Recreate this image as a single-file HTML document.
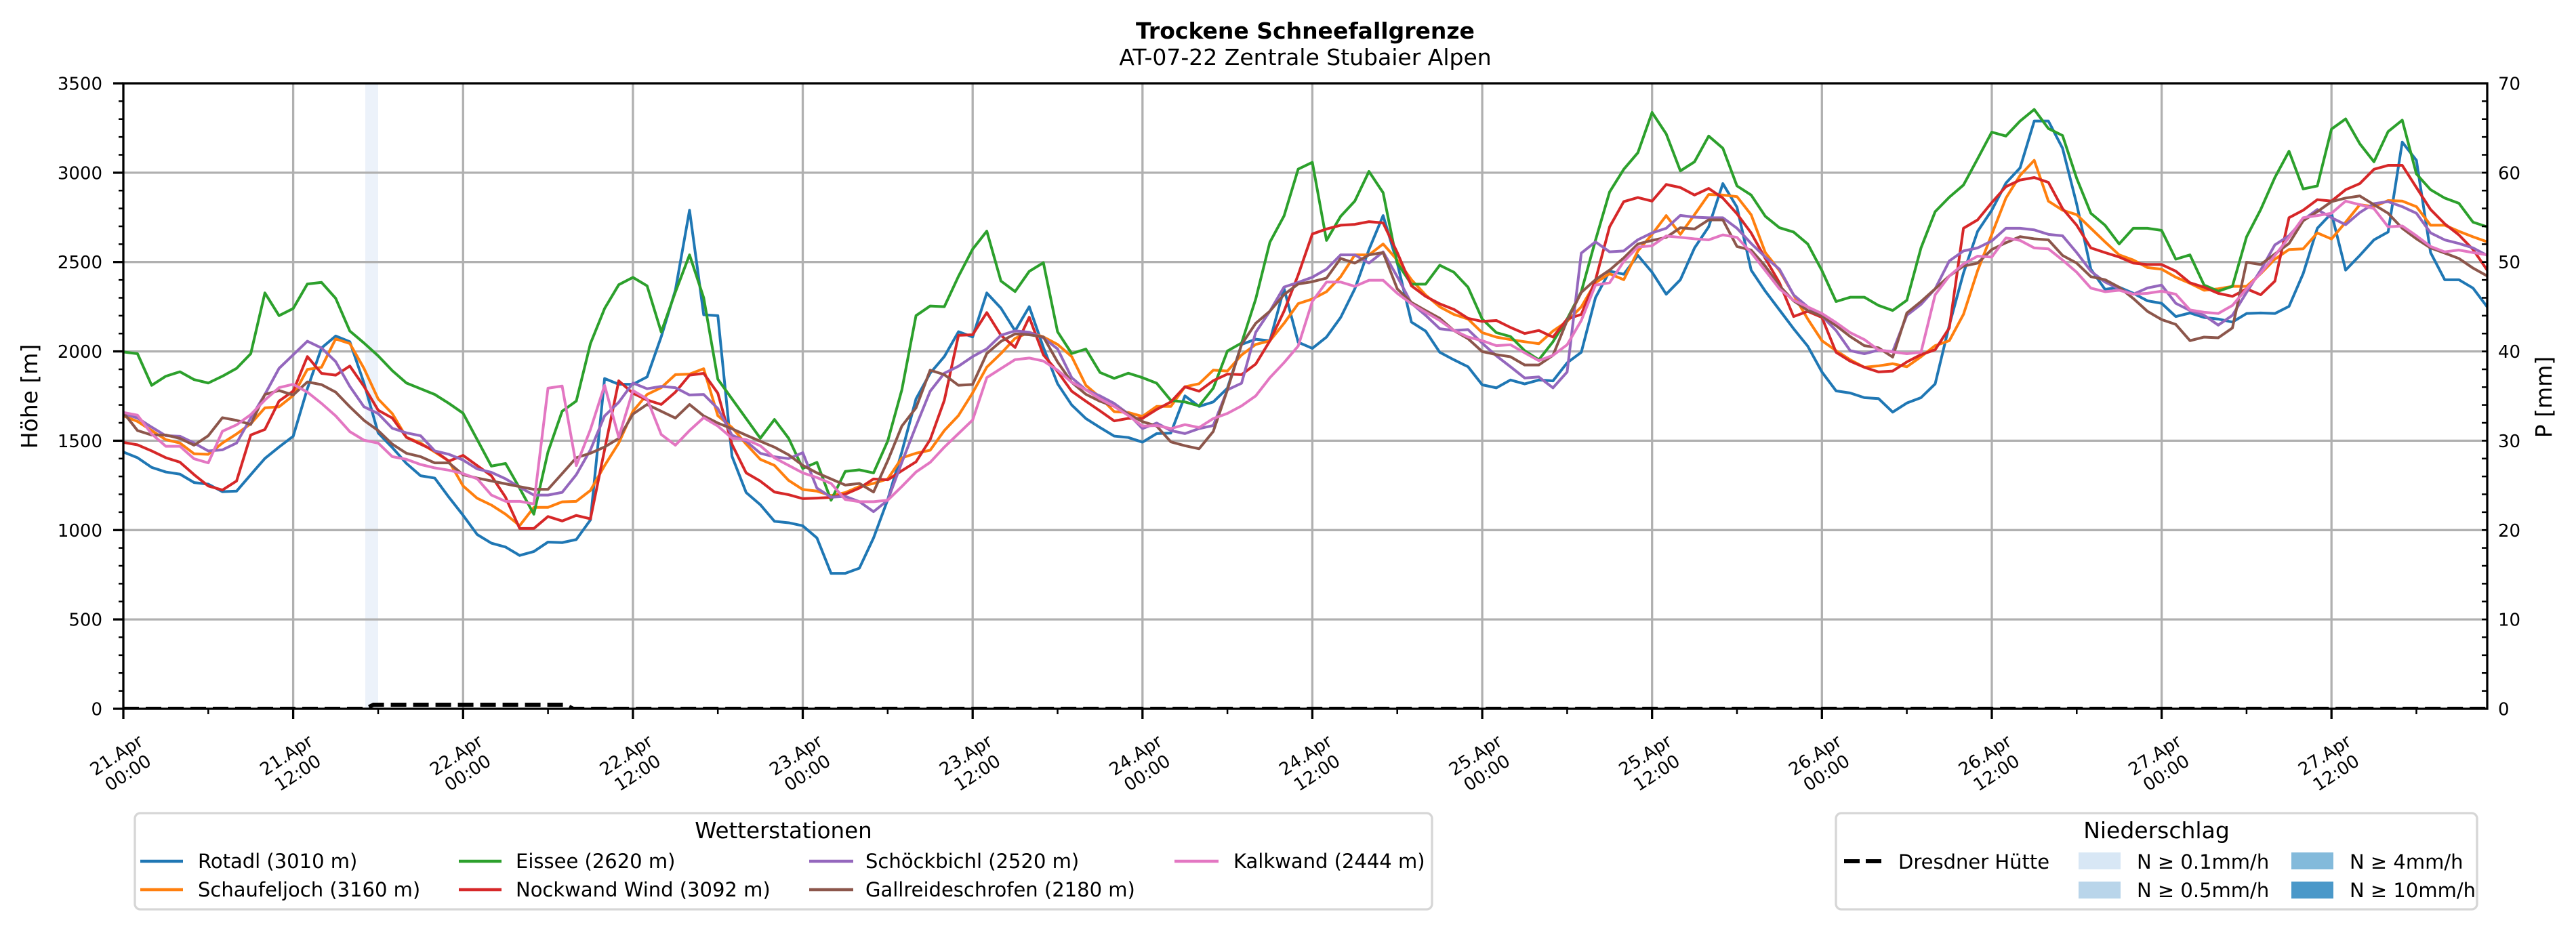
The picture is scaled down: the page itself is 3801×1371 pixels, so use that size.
<!DOCTYPE html>
<html><head><meta charset="utf-8"><style>
html,body{margin:0;padding:0;background:#fff;}
svg{display:block;font-family:"DejaVu Sans","Liberation Sans",sans-serif;}
</style></head><body>
<svg xmlns="http://www.w3.org/2000/svg" width="3801" height="1371" viewBox="0 0 3801 1371">
<rect x="0" y="0" width="3801" height="1371" fill="#fff"/>
<!-- titles -->
<text x="1926" y="57" text-anchor="middle" font-size="33" font-weight="bold">Trockene Schneefallgrenze</text>
<text x="1926" y="96" text-anchor="middle" font-size="33">AT-07-22 Zentrale Stubaier Alpen</text>
<!-- precipitation bar -->
<rect x="539" y="123" width="19" height="923" fill="#ecf2fa"/>
<!-- grid -->
<g stroke="#b0b0b0" stroke-width="3.3">
<line x1="182" x2="3670" y1="914.1" y2="914.1"/>
<line x1="182" x2="3670" y1="782.3" y2="782.3"/>
<line x1="182" x2="3670" y1="650.4" y2="650.4"/>
<line x1="182" x2="3670" y1="518.6" y2="518.6"/>
<line x1="182" x2="3670" y1="386.7" y2="386.7"/>
<line x1="182" x2="3670" y1="254.9" y2="254.9"/>
<line y1="123" y2="1046" x1="432.6" x2="432.6"/>
<line y1="123" y2="1046" x1="683.3" x2="683.3"/>
<line y1="123" y2="1046" x1="933.9" x2="933.9"/>
<line y1="123" y2="1046" x1="1184.5" x2="1184.5"/>
<line y1="123" y2="1046" x1="1435.2" x2="1435.2"/>
<line y1="123" y2="1046" x1="1685.8" x2="1685.8"/>
<line y1="123" y2="1046" x1="1936.4" x2="1936.4"/>
<line y1="123" y2="1046" x1="2187.1" x2="2187.1"/>
<line y1="123" y2="1046" x1="2437.7" x2="2437.7"/>
<line y1="123" y2="1046" x1="2688.3" x2="2688.3"/>
<line y1="123" y2="1046" x1="2939.0" x2="2939.0"/>
<line y1="123" y2="1046" x1="3189.6" x2="3189.6"/>
<line y1="123" y2="1046" x1="3440.2" x2="3440.2"/>
</g>
<!-- series -->
<g transform="matrix(20.886 0 0 -0.263714 182 1046)" fill="none" stroke-linejoin="round">
<polyline vector-effect="non-scaling-stroke" stroke="#1f77b4" stroke-width="4" points="0,1437 1,1405 2,1351 3,1325 4,1313 5,1266 6,1257 7,1215 8,1218 9,1310 10,1401 11,1465 12,1525 13,1791 14,2019 15,2086 16,2054 17,1823 18,1544 19,1462 20,1373 21,1304 22,1291 23,1184 24,1083 25,975 26,927 27,905 28,858 29,880 30,933 31,930 32,947 33,1057 34,1848 35,1816 36,1816 37,1857 38,2082 39,2342 40,2790 41,2205 42,2200 43,1413 44,1210 45,1142 46,1049 47,1041 48,1024 49,956 50,758 51,758 52,787 53,956 54,1170 55,1438 56,1734 57,1878 58,1971 59,2110 60,2081 61,2327 62,2242 63,2115 64,2250 65,2022 66,1819 67,1700 68,1624 69,1574 70,1526 71,1518 72,1492 73,1540 74,1543 75,1751 76,1692 77,1717 78,1794 79,2039 80,2068 81,2059 82,2352 83,2051 84,2017 85,2080 86,2190 87,2350 88,2570 89,2760 90,2494 91,2164 92,2114 93,1995 94,1953 95,1914 96,1813 97,1796 98,1840 99,1818 100,1840 101,1835 102,1936 103,1995 104,2300 105,2449 106,2432 107,2537 108,2443 109,2320 110,2401 111,2579 112,2697 113,2939 114,2807 115,2455 116,2337 117,2232 118,2127 119,2029 120,1885 121,1779 122,1767 123,1741 124,1736 125,1660 126,1711 127,1741 128,1818 129,2147 130,2438 131,2672 132,2790 133,2942 134,3027 135,3289 136,3289 137,3137 138,2824 139,2460 140,2347 141,2359 142,2325 143,2283 144,2269 145,2195 146,2215 147,2190 148,2181 149,2164 150,2212 151,2215 152,2212 153,2252 154,2435 155,2689 156,2773 157,2455 158,2537 159,2624 160,2668 161,3171 162,3069 163,2553 164,2401 165,2401 166,2354 167,2249"/>
<polyline vector-effect="non-scaling-stroke" stroke="#ff7f0e" stroke-width="4" points="0,1639 1,1608 2,1557 3,1506 4,1487 5,1427 6,1424 7,1487 8,1538 9,1595 10,1684 11,1690 12,1753 13,1899 14,1911 15,2070 16,2044 17,1905 18,1734 19,1652 20,1519 21,1487 22,1437 23,1386 24,1247 25,1178 26,1140 27,1089 28,1025 29,1127 30,1127 31,1158 32,1161 33,1222 34,1361 35,1487 36,1665 37,1759 38,1797 39,1870 40,1873 41,1903 42,1640 43,1574 44,1481 45,1396 46,1362 47,1278 48,1227 49,1218 50,1193 51,1210 52,1244 53,1261 54,1286 55,1404 56,1430 57,1447 58,1557 59,1641 60,1768 61,1912 62,1988 63,2073 64,2107 65,2081 66,2039 67,1971 68,1810 69,1743 70,1663 71,1658 72,1636 73,1692 74,1692 75,1802 76,1819 77,1895 78,1890 79,1980 80,2039 81,2059 82,2157 83,2267 84,2293 85,2334 86,2418 87,2540 88,2540 89,2601 90,2511 91,2401 92,2316 93,2249 94,2207 95,2181 96,2105 97,2080 98,2066 99,2054 100,2043 101,2114 102,2168 103,2249 104,2384 105,2435 106,2401 107,2562 108,2655 109,2760 110,2655 111,2765 112,2878 113,2875 114,2866 115,2765 116,2553 117,2452 118,2316 119,2181 120,2060 121,2004 122,1953 123,1911 124,1919 125,1931 126,1914 127,1970 128,2032 129,2060 130,2207 131,2452 132,2655 133,2858 134,2985 135,3069 136,2841 137,2790 138,2765 139,2689 140,2613 141,2540 142,2511 143,2469 144,2460 145,2415 146,2381 147,2342 148,2350 149,2364 150,2364 151,2435 152,2516 153,2570 154,2574 155,2663 156,2629 157,2723 158,2821 159,2810 160,2844 161,2841 162,2810 163,2706 164,2706 165,2672 166,2641 167,2613"/>
<polyline vector-effect="non-scaling-stroke" stroke="#2ca02c" stroke-width="4" points="0,1997 1,1987 2,1810 3,1861 4,1886 5,1842 6,1823 7,1861 8,1905 9,1987 10,2327 11,2200 12,2240 13,2377 14,2386 15,2297 16,2114 17,2047 18,1975 19,1892 20,1823 21,1791 22,1759 23,1709 24,1654 25,1506 26,1358 27,1373 28,1234 29,1089 30,1437 31,1665 32,1722 33,2044 34,2240 35,2373 36,2414 37,2367 38,2108 39,2332 40,2540 41,2300 42,1844 43,1734 44,1624 45,1514 46,1619 47,1514 48,1345 49,1379 50,1167 51,1328 52,1337 53,1320 54,1498 55,1785 56,2200 57,2254 58,2250 59,2420 60,2572 61,2673 62,2394 63,2335 64,2448 65,2496 66,2110 67,1988 68,2013 69,1882 70,1849 71,1878 72,1853 73,1822 74,1726 75,1717 76,1695 77,1794 78,2002 79,2047 80,2293 81,2611 82,2758 83,3020 84,3058 85,2621 86,2756 87,2841 88,3007 89,2888 90,2494 91,2376 92,2376 93,2482 94,2443 95,2359 96,2181 97,2105 98,2083 99,2004 100,1953 101,2054 102,2181 103,2334 104,2621 105,2892 106,3019 107,3112 108,3337 109,3217 110,3010 111,3061 112,3205 113,3137 114,2926 115,2875 116,2756 117,2692 118,2668 119,2601 120,2452 121,2279 122,2303 123,2303 124,2257 125,2229 126,2286 127,2579 128,2782 129,2863 130,2931 131,3078 132,3227 133,3205 134,3289 135,3354 136,3247 137,3208 138,2968 139,2773 140,2706 141,2601 142,2689 143,2689 144,2677 145,2516 146,2540 147,2371 148,2337 149,2364 150,2641 151,2794 152,2973 153,3120 154,2909 155,2926 156,3244 157,3301 158,3162 159,3061 160,3230 161,3294 162,2993 163,2905 164,2858 165,2829 166,2723 167,2697"/>
<polyline vector-effect="non-scaling-stroke" stroke="#d62728" stroke-width="4" points="0,1491 1,1477 2,1443 3,1405 4,1380 5,1310 6,1247 7,1224 8,1275 9,1532 10,1563 11,1722 12,1778 13,1971 14,1877 15,1867 16,1918 17,1804 18,1671 19,1627 20,1519 21,1481 22,1443 23,1386 24,1418 25,1361 26,1304 27,1184 28,1009 29,1009 30,1076 31,1051 32,1082 33,1063 34,1450 35,1835 36,1766 37,1728 38,1703 39,1772 40,1867 41,1877 42,1766 43,1480 44,1320 45,1274 46,1213 47,1198 48,1176 49,1179 50,1183 51,1201 52,1235 53,1286 54,1281 55,1332 56,1382 57,1506 58,1726 59,2090 60,2093 61,2217 62,2090 63,2022 64,2191 65,1980 66,1887 67,1777 68,1721 69,1667 70,1611 71,1625 72,1625 73,1675 74,1717 75,1802 76,1777 77,1836 78,1873 79,1870 80,1929 81,2059 82,2225 83,2428 84,2657 85,2685 86,2706 87,2711 88,2726 89,2719 90,2553 91,2367 92,2308 93,2266 94,2235 95,2185 96,2168 97,2173 98,2134 99,2100 100,2117 101,2080 102,2181 103,2207 104,2398 105,2697 106,2838 107,2861 108,2841 109,2934 110,2917 111,2875 112,2912 113,2858 114,2770 115,2663 116,2520 117,2384 118,2195 119,2224 120,2190 121,1995 122,1945 123,1911 124,1885 125,1890 126,1941 127,1982 128,2009 129,2131 130,2689 131,2736 132,2833 133,2922 134,2959 135,2973 136,2946 137,2799 138,2706 139,2579 140,2553 141,2528 142,2494 143,2486 144,2486 145,2449 146,2384 147,2359 148,2325 149,2308 150,2350 151,2317 152,2393 153,2748 154,2790 155,2849 156,2841 157,2905 158,2939 159,3019 160,3041 161,3041 162,2917 163,2794 164,2714 165,2652 166,2570 167,2455"/>
<polyline vector-effect="non-scaling-stroke" stroke="#9467bd" stroke-width="4" points="0,1652 1,1627 2,1576 3,1528 4,1525 5,1487 6,1443 7,1449 8,1487 9,1627 10,1759 11,1905 12,1981 13,2057 14,2019 15,1943 16,1804 17,1690 18,1652 19,1570 20,1544 21,1528 22,1443 23,1424 24,1392 25,1342 26,1323 27,1287 28,1240 29,1196 30,1196 31,1211 32,1310 33,1449 34,1639 35,1715 36,1823 37,1791 38,1804 39,1797 40,1756 41,1759 42,1680 43,1531 44,1497 45,1430 46,1410 47,1400 48,1433 49,1235 50,1184 51,1189 52,1159 53,1103 54,1167 55,1379 56,1582 57,1777 58,1878 59,1917 60,1971 61,2014 62,2090 63,2115 64,2107 65,2076 66,2014 67,1853 68,1785 69,1751 70,1709 71,1650 72,1568 73,1599 74,1557 75,1540 76,1568 77,1585 78,1785 79,1822 80,2107 81,2225 82,2360 83,2386 84,2415 85,2460 86,2540 87,2540 88,2494 89,2557 90,2418 91,2269 92,2202 93,2127 94,2117 95,2122 96,2046 97,1975 98,1914 99,1851 100,1857 101,1796 102,1885 103,2550 104,2613 105,2557 106,2562 107,2625 108,2663 109,2689 110,2761 111,2751 112,2748 113,2748 114,2689 115,2604 116,2528 117,2460 118,2316 119,2249 120,2198 121,2117 122,2004 123,1987 124,2007 125,1999 126,2202 127,2263 128,2350 129,2506 130,2562 131,2579 132,2618 133,2689 134,2689 135,2680 136,2655 137,2647 138,2553 139,2449 140,2388 141,2350 142,2320 143,2355 144,2371 145,2269 146,2229 147,2202 148,2147 149,2202 150,2330 151,2455 152,2596 153,2647 154,2736 155,2794 156,2748 157,2709 158,2777 159,2827 160,2838 161,2810 162,2773 163,2663 164,2624 165,2604 166,2579 167,2537"/>
<polyline vector-effect="non-scaling-stroke" stroke="#8c564b" stroke-width="4" points="0,1658 1,1557 2,1532 3,1532 4,1513 5,1475 6,1528 7,1629 8,1614 9,1591 10,1759 11,1781 12,1756 13,1829 14,1814 15,1772 16,1690 17,1614 18,1557 19,1481 20,1430 21,1411 22,1376 23,1376 24,1310 25,1291 26,1275 27,1259 28,1243 29,1228 30,1228 31,1316 32,1405 33,1430 34,1465 35,1513 36,1649 37,1703 38,1665 39,1627 40,1703 41,1639 42,1599 43,1567 44,1531 45,1497 46,1464 47,1421 48,1362 49,1320 50,1286 51,1252 52,1261 53,1213 54,1388 55,1582 56,1684 57,1895 58,1870 59,1810 60,1815 61,1988 62,2056 63,2098 64,2093 65,2081 66,1941 67,1827 68,1760 69,1721 70,1692 71,1650 72,1607 73,1582 74,1494 75,1472 76,1455 77,1552 78,1785 79,2039 80,2157 81,2225 82,2318 83,2377 84,2390 85,2410 86,2520 87,2494 88,2540 89,2553 90,2350 91,2274 92,2229 93,2185 94,2117 95,2071 96,1999 97,1982 98,1970 99,1924 100,1924 101,1978 102,2173 103,2330 104,2401 105,2455 106,2523 107,2601 108,2621 109,2638 110,2692 111,2685 112,2736 113,2736 114,2587 115,2567 116,2477 117,2367 118,2283 119,2229 120,2198 121,2144 122,2083 123,2032 124,2020 125,1968 126,2215 127,2279 128,2350 129,2422 130,2477 131,2494 132,2570 133,2608 134,2642 135,2630 136,2624 137,2537 138,2494 139,2418 140,2401 141,2359 142,2296 143,2224 144,2178 145,2151 146,2060 147,2080 148,2076 149,2131 150,2499 151,2486 152,2545 153,2604 154,2731 155,2782 156,2838 157,2858 158,2870 159,2821 160,2773 161,2689 162,2630 163,2579 164,2550 165,2520 166,2466 167,2422"/>
<polyline vector-effect="non-scaling-stroke" stroke="#e377c2" stroke-width="4" points="0,1658 1,1643 2,1538 3,1469 4,1469 5,1399 6,1376 7,1553 8,1589 9,1646 10,1728 11,1797 12,1816 13,1772 14,1709 15,1639 16,1551 17,1503 18,1487 19,1411 20,1396 21,1367 22,1348 23,1335 24,1316 25,1287 26,1196 27,1161 28,1161 29,1146 30,1794 31,1806 32,1361 33,1563 34,1810 35,1519 36,1781 37,1734 38,1535 39,1475 40,1557 41,1629 42,1582 43,1514 44,1506 45,1472 46,1404 47,1362 48,1320 49,1294 50,1261 51,1171 52,1159 53,1159 54,1167 55,1244 56,1325 57,1379 58,1464 59,1540 60,1616 61,1853 62,1904 63,1954 64,1963 65,1946 66,1895 67,1827 68,1785 69,1734 70,1692 71,1641 72,1582 73,1585 74,1568 75,1590 76,1574 77,1624 78,1653 79,1695 80,1751 81,1853 82,1937 83,2030 84,2280 85,2388 86,2388 87,2364 88,2398 89,2398 90,2325 91,2266 92,2219 93,2173 94,2117 95,2080 96,2060 97,2032 98,2037 99,1992 100,1948 101,1978 102,2037 103,2173 104,2371 105,2384 106,2503 107,2584 108,2591 109,2646 110,2638 111,2630 112,2624 113,2652 114,2638 115,2553 116,2452 117,2350 118,2286 119,2249 120,2212 121,2161 122,2105 123,2066 124,2008 125,1997 126,1987 127,1995 128,2317 129,2422 130,2489 131,2533 132,2528 133,2635 134,2621 135,2579 136,2574 137,2511 138,2443 139,2354 140,2334 141,2342 142,2320 143,2325 144,2337 145,2320 146,2232 147,2219 148,2212 149,2257 150,2350 151,2438 152,2537 153,2638 154,2748 155,2760 156,2773 157,2841 158,2821 159,2799 160,2697 161,2702 162,2647 163,2587 164,2557 165,2567 166,2553 167,2540"/>
</g>
<!-- Dresdner Huette dashed precipitation line -->
<clipPath id="pc"><rect x="182" y="123" width="3488" height="923"/></clipPath>
<polyline clip-path="url(#pc)" fill="none" stroke="#000" stroke-width="6" stroke-dasharray="23 10" points="182,1046 539,1046 551,1040 834,1040 846,1046 3670,1046"/>
<!-- spines -->
<rect x="182" y="123" width="3488" height="923" fill="none" stroke="#000" stroke-width="3.3"/>
<!-- ticks -->
<line x1="178.5" y1="1047.25" x2="178.5" y2="121" stroke="#000" stroke-width="7" stroke-dasharray="2.5 23.8714"/>
<line x1="3666" y1="1047.25" x2="3666" y2="121" stroke="#000" stroke-width="8" stroke-dasharray="2.5 23.8714"/>
<g stroke="#000" stroke-width="3.3">
<line x1="167" x2="182" y1="1046" y2="1046"/>
<line x1="167" x2="182" y1="914.1" y2="914.1"/>
<line x1="167" x2="182" y1="782.3" y2="782.3"/>
<line x1="167" x2="182" y1="650.4" y2="650.4"/>
<line x1="167" x2="182" y1="518.6" y2="518.6"/>
<line x1="167" x2="182" y1="386.7" y2="386.7"/>
<line x1="167" x2="182" y1="254.9" y2="254.9"/>
<line x1="167" x2="182" y1="123" y2="123"/>
</g>
<g stroke="#000" stroke-width="3.3">
<line y1="1046" y2="1061" x1="182" x2="182"/>
<line y1="1046" y2="1061" x1="432.6" x2="432.6"/>
<line y1="1046" y2="1061" x1="683.3" x2="683.3"/>
<line y1="1046" y2="1061" x1="933.9" x2="933.9"/>
<line y1="1046" y2="1061" x1="1184.5" x2="1184.5"/>
<line y1="1046" y2="1061" x1="1435.2" x2="1435.2"/>
<line y1="1046" y2="1061" x1="1685.8" x2="1685.8"/>
<line y1="1046" y2="1061" x1="1936.4" x2="1936.4"/>
<line y1="1046" y2="1061" x1="2187.1" x2="2187.1"/>
<line y1="1046" y2="1061" x1="2437.7" x2="2437.7"/>
<line y1="1046" y2="1061" x1="2688.3" x2="2688.3"/>
<line y1="1046" y2="1061" x1="2939.0" x2="2939.0"/>
<line y1="1046" y2="1061" x1="3189.6" x2="3189.6"/>
<line y1="1046" y2="1061" x1="3440.2" x2="3440.2"/>
</g>
<g stroke="#000" stroke-width="2.5">
<line y1="1046" y2="1054" x1="307.3" x2="307.3"/>
<line y1="1046" y2="1054" x1="558.0" x2="558.0"/>
<line y1="1046" y2="1054" x1="808.6" x2="808.6"/>
<line y1="1046" y2="1054" x1="1059.2" x2="1059.2"/>
<line y1="1046" y2="1054" x1="1309.8" x2="1309.8"/>
<line y1="1046" y2="1054" x1="1560.5" x2="1560.5"/>
<line y1="1046" y2="1054" x1="1811.1" x2="1811.1"/>
<line y1="1046" y2="1054" x1="2061.7" x2="2061.7"/>
<line y1="1046" y2="1054" x1="2312.4" x2="2312.4"/>
<line y1="1046" y2="1054" x1="2563.0" x2="2563.0"/>
<line y1="1046" y2="1054" x1="2813.6" x2="2813.6"/>
<line y1="1046" y2="1054" x1="3064.3" x2="3064.3"/>
<line y1="1046" y2="1054" x1="3314.9" x2="3314.9"/>
<line y1="1046" y2="1054" x1="3565.5" x2="3565.5"/>
</g>
<!-- left tick labels -->
<g font-size="26" text-anchor="end">
<text x="151" y="1055.5">0</text>
<text x="151" y="923.6">500</text>
<text x="151" y="791.8">1000</text>
<text x="151" y="659.9">1500</text>
<text x="151" y="528.1">2000</text>
<text x="151" y="396.2">2500</text>
<text x="151" y="264.4">3000</text>
<text x="151" y="132.5">3500</text>
</g>
<!-- right tick labels -->
<g font-size="26">
<text x="3686" y="1055.5">0</text>
<text x="3686" y="923.6">10</text>
<text x="3686" y="791.8">20</text>
<text x="3686" y="659.9">30</text>
<text x="3686" y="528.1">40</text>
<text x="3686" y="396.2">50</text>
<text x="3686" y="264.4">60</text>
<text x="3686" y="132.5">70</text>
</g>
<!-- axis labels -->
<text transform="translate(55,585) rotate(-90)" text-anchor="middle" font-size="33">Höhe [m]</text>
<text transform="translate(3765,586) rotate(-90)" text-anchor="middle" font-size="33">P [mm]</text>
<!-- x tick labels -->
<g font-size="26" text-anchor="middle">
<g transform="translate(180,1127) rotate(-33)"><text><tspan x="0" y="-6">21.Apr</tspan><tspan x="0" y="25">00:00</tspan></text></g>
<g transform="translate(430.6,1127) rotate(-33)"><text><tspan x="0" y="-6">21.Apr</tspan><tspan x="0" y="25">12:00</tspan></text></g>
<g transform="translate(681.3,1127) rotate(-33)"><text><tspan x="0" y="-6">22.Apr</tspan><tspan x="0" y="25">00:00</tspan></text></g>
<g transform="translate(931.9,1127) rotate(-33)"><text><tspan x="0" y="-6">22.Apr</tspan><tspan x="0" y="25">12:00</tspan></text></g>
<g transform="translate(1182.5,1127) rotate(-33)"><text><tspan x="0" y="-6">23.Apr</tspan><tspan x="0" y="25">00:00</tspan></text></g>
<g transform="translate(1433.2,1127) rotate(-33)"><text><tspan x="0" y="-6">23.Apr</tspan><tspan x="0" y="25">12:00</tspan></text></g>
<g transform="translate(1683.8,1127) rotate(-33)"><text><tspan x="0" y="-6">24.Apr</tspan><tspan x="0" y="25">00:00</tspan></text></g>
<g transform="translate(1934.4,1127) rotate(-33)"><text><tspan x="0" y="-6">24.Apr</tspan><tspan x="0" y="25">12:00</tspan></text></g>
<g transform="translate(2185.1,1127) rotate(-33)"><text><tspan x="0" y="-6">25.Apr</tspan><tspan x="0" y="25">00:00</tspan></text></g>
<g transform="translate(2435.7,1127) rotate(-33)"><text><tspan x="0" y="-6">25.Apr</tspan><tspan x="0" y="25">12:00</tspan></text></g>
<g transform="translate(2686.3,1127) rotate(-33)"><text><tspan x="0" y="-6">26.Apr</tspan><tspan x="0" y="25">00:00</tspan></text></g>
<g transform="translate(2937.0,1127) rotate(-33)"><text><tspan x="0" y="-6">26.Apr</tspan><tspan x="0" y="25">12:00</tspan></text></g>
<g transform="translate(3187.6,1127) rotate(-33)"><text><tspan x="0" y="-6">27.Apr</tspan><tspan x="0" y="25">00:00</tspan></text></g>
<g transform="translate(3438.2,1127) rotate(-33)"><text><tspan x="0" y="-6">27.Apr</tspan><tspan x="0" y="25">12:00</tspan></text></g>
</g>
<!-- legend 1 -->
<rect x="199" y="1200" width="1914" height="142" rx="8" ry="8" fill="#fff" stroke="#d6d6d6" stroke-width="3.3"/>
<text x="1156" y="1237" text-anchor="middle" font-size="32.5">Wetterstationen</text>
<g stroke-width="4.5">
<line x1="207" x2="270" y1="1271" y2="1271" stroke="#1f77b4"/>
<line x1="207" x2="270" y1="1313" y2="1313" stroke="#ff7f0e"/>
<line x1="677" x2="740" y1="1271" y2="1271" stroke="#2ca02c"/>
<line x1="677" x2="740" y1="1313" y2="1313" stroke="#d62728"/>
<line x1="1194" x2="1259" y1="1271" y2="1271" stroke="#9467bd"/>
<line x1="1194" x2="1259" y1="1313" y2="1313" stroke="#8c564b"/>
<line x1="1733" x2="1798" y1="1271" y2="1271" stroke="#e377c2"/>
</g>
<g font-size="29">
<text x="292" y="1281">Rotadl (3010 m)</text>
<text x="292" y="1323">Schaufeljoch (3160 m)</text>
<text x="761" y="1281">Eissee (2620 m)</text>
<text x="761" y="1323">Nockwand Wind (3092 m)</text>
<text x="1277" y="1281">Schöckbichl (2520 m)</text>
<text x="1277" y="1323">Gallreideschrofen (2180 m)</text>
<text x="1820" y="1281">Kalkwand (2444 m)</text>
</g>
<!-- legend 2 -->
<rect x="2709" y="1200" width="946" height="142" rx="8" ry="8" fill="#fff" stroke="#d6d6d6" stroke-width="3.3"/>
<text x="3182" y="1237" text-anchor="middle" font-size="33">Niederschlag</text>
<line x1="2721" x2="2778" y1="1271" y2="1271" stroke="#000" stroke-width="6" stroke-dasharray="23 9"/>
<rect x="3067" y="1258" width="62" height="25" fill="#d8e7f5"/>
<rect x="3067" y="1301" width="62" height="25" fill="#b9d5ea"/>
<rect x="3381" y="1258" width="62" height="25" fill="#83badb"/>
<rect x="3381" y="1301" width="62" height="25" fill="#4a98c9"/>
<g font-size="29">
<text x="2801" y="1282">Dresdner Hütte</text>
<text x="3153" y="1282">N ≥ 0.1mm/h</text>
<text x="3153" y="1324">N ≥ 0.5mm/h</text>
<text x="3467" y="1282">N ≥ 4mm/h</text>
<text x="3467" y="1324">N ≥ 10mm/h</text>
</g>
</svg>
</body></html>
